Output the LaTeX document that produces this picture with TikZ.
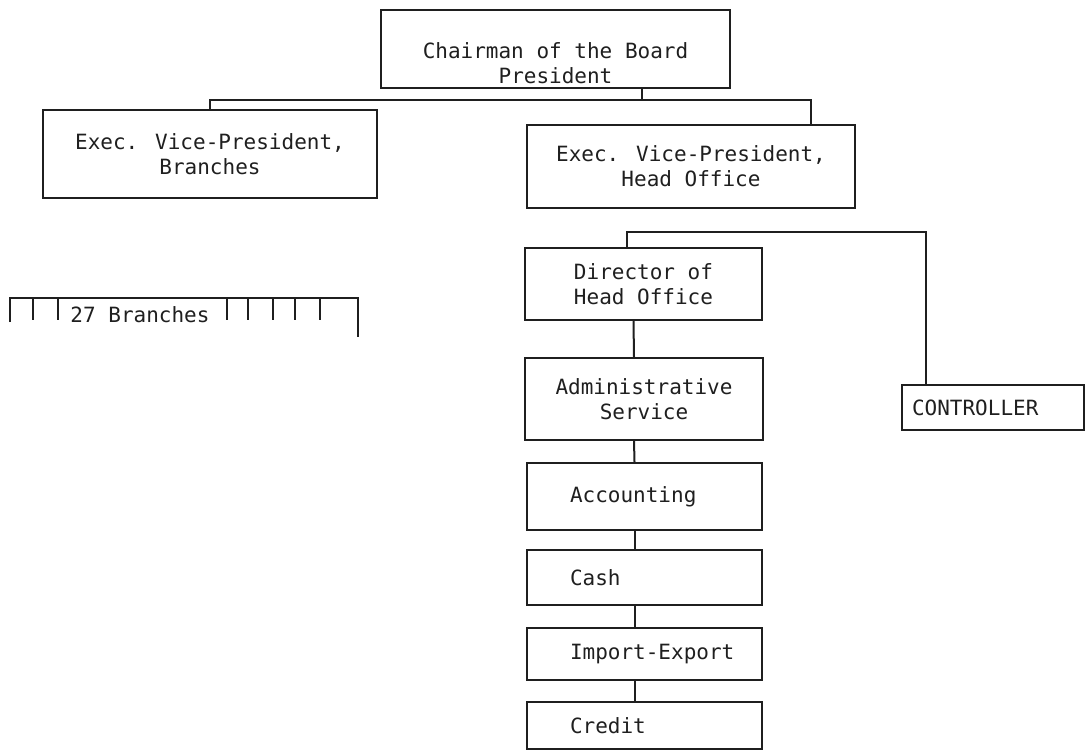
\documentclass[tikz,border=0pt]{standalone}
\usepackage{fontspec}
\setmainfont{DejaVu Sans Mono}
\usetikzlibrary{calc}
\definecolor{ink}{gray}{0.12}
\begin{document}
\begin{tikzpicture}[x=1bp,y=-1bp,line width=2bp,color=ink]
        \useasboundingbox (0,0) rectangle (1086,754);
        \tikzstyle{every node}=[draw,inner sep=0pt,align=center,font=\fontsize{21bp}{25bp}\selectfont];
        \tikzstyle{dept}=[align=left,text width=235bp,execute at begin node={\hspace*{43bp}}];
        % top of the chart
        \node (chair) at (555.5,49) [minimum width=349bp,minimum height=78bp] {\rule{0pt}{44bp}Chairman of the Board\\President};
        \node (evpb) at (210,154) [minimum width=334bp,minimum height=88bp] {Exec. Vice-President,\\Branches};
        \node (evph) at (691,166.5) [minimum width=328bp,minimum height=83bp] {Exec. Vice-President,\\Head Office};
        % head office
        \node (dir) at (643.5,284) [minimum width=237bp,minimum height=72bp] {Director of\\Head Office};
        \node (adm) at (644,399) [minimum width=238bp,minimum height=82bp] {Administrative\\Service};
        \node (acc) at (644.5,496.5) [dept,minimum height=67bp] {Accounting};
        \node (cash) at (644.5,577.5) [dept,minimum height=55bp] {Cash};
        \node (imp) at (644.5,654) [dept,minimum height=52bp] {Import-Export};
        \node (cred) at (644.5,725.5) [dept,minimum height=47bp] {Credit};
        \node (ctrl) at (993,407.5) [align=left,text width=182bp,minimum height=45bp,
            execute at begin node={\hspace*{10bp}}] {CONTROLLER};
        \node (br) at (140,315) [draw=none] {27 Branches};
        % connectors
        \coordinate (j1) at (642,100);
        \draw (chair.south -| j1) -- (j1)
        (evpb.north) |- (j1) -| ($(evph.north east)+(-45,0)$);
        \draw ($(dir.north)+(-17,0)$) -- ++(0,-15) -| ($(ctrl.north west)+(25,0)$);
        \foreach \a/\b in {dir/adm,adm/acc,acc/cash,cash/imp,imp/cred}
            \draw ($(\a.south)+(-10,0)$) -- ($(\b.north)+(-10,0)$);
        % bracket over the branches
        \draw (10,322) |- (358,298) -- (358,337);
        \foreach \x in {33,58,227,248,273,295,320}
            \draw (\x,298) -- (\x,320);
    \end{tikzpicture}
\end{document}
